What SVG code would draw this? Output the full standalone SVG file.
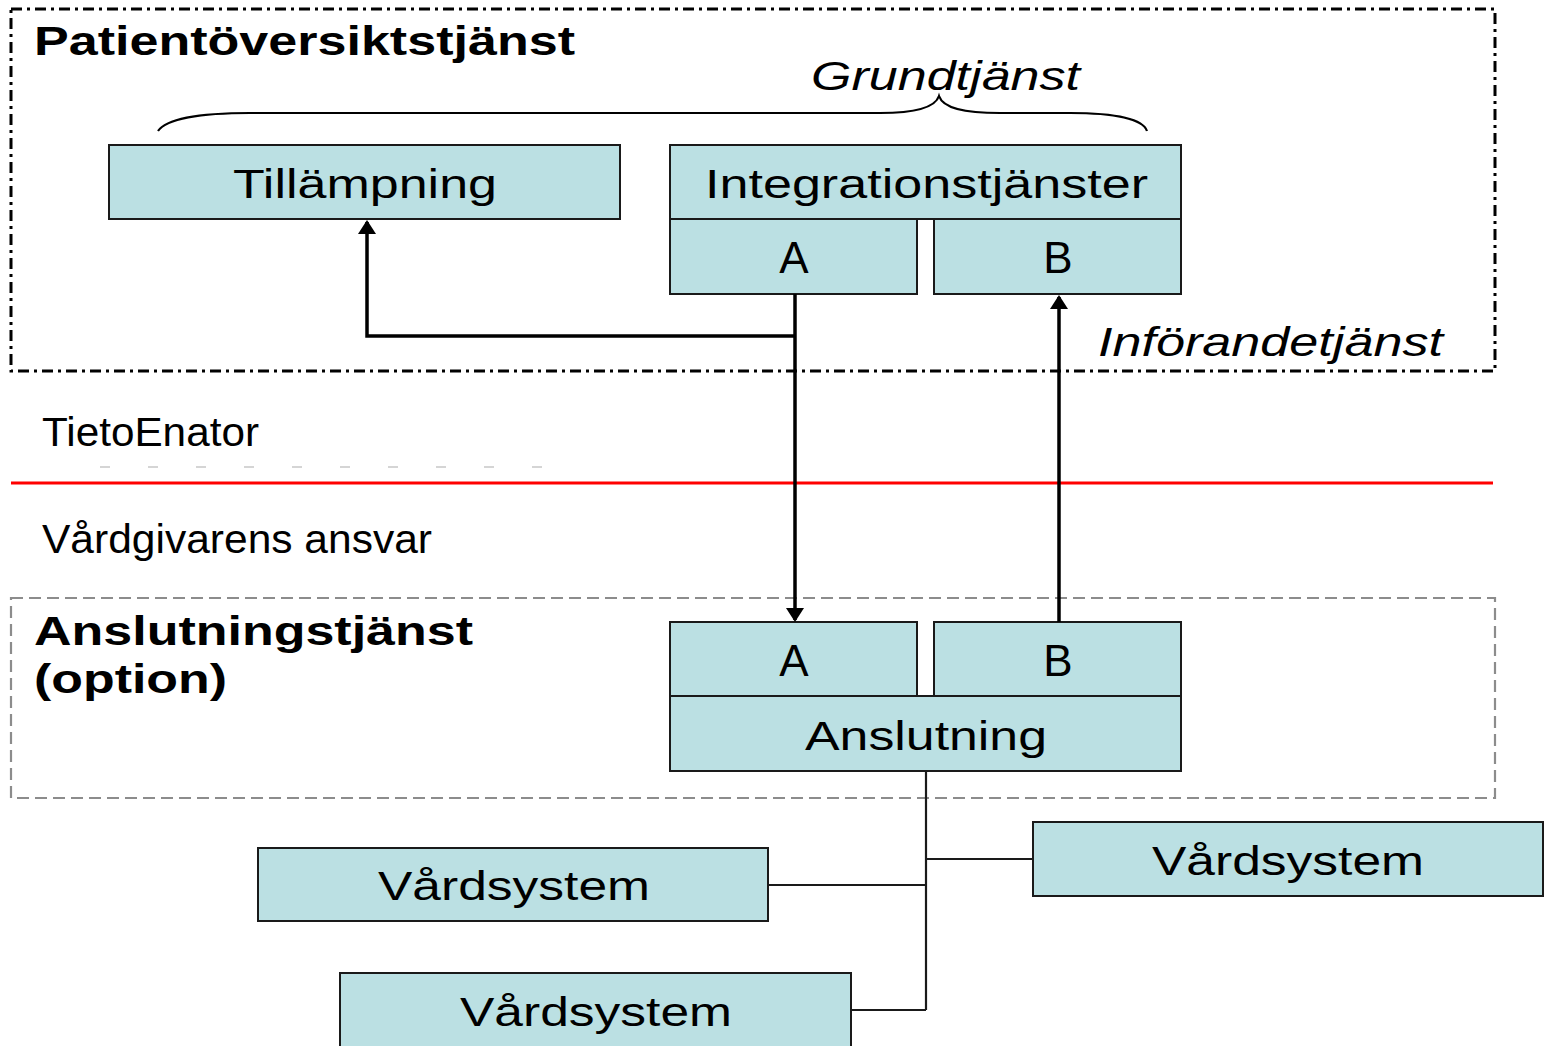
<svg xmlns="http://www.w3.org/2000/svg" width="1545" height="1046" viewBox="0 0 1545 1046">
<defs>
<style>
.box{fill:#BBE0E3;stroke:#1a1a1a;stroke-width:2}
.t{font-family:"Liberation Sans",Arial,sans-serif;font-size:41px;fill:#000}
.ab{font-size:44px}
.b{font-weight:bold}
.i{font-style:italic}
.c{text-anchor:middle}
.conn{fill:none;stroke:#000;stroke-width:3.5}
.thin{fill:none;stroke:#1a1a1a;stroke-width:2.2}
</style>
<marker id="ah" viewBox="0 0 14 18" refX="12" refY="9" markerWidth="14" markerHeight="18" orient="auto" markerUnits="userSpaceOnUse">
<path d="M0,0 L14,9 L0,18 z" fill="#000"/>
</marker>
</defs>
<rect width="1545" height="1046" fill="#fff"/>

<g id="patientoversikt">
<rect x="11" y="9" width="1484" height="362" fill="none" stroke="#000" stroke-width="3" stroke-dasharray="11 5 3 5"/>
<text class="t b" x="34" y="55" textLength="541" lengthAdjust="spacingAndGlyphs">Patientöversiktstjänst</text>
</g>

<g id="grundtjanst">
<path d="M158,131 C166,119 200,113 250,113 L880,113 C915,113 935,108 939,96 C943,108 963,113 1000,113 L1070,113 C1115,113 1143,119 1147,131" fill="none" stroke="#000" stroke-width="2.2"/>
<text class="t i" x="811" y="90" textLength="269" lengthAdjust="spacingAndGlyphs">Grundtjänst</text>
</g>

<g id="tillampning">
<rect class="box" x="109" y="145" width="511" height="74"/>
<text class="t" x="233" y="198" textLength="264" lengthAdjust="spacingAndGlyphs">Tillämpning</text>
</g>

<g id="integrationstjanster">
<rect class="box" x="670" y="145" width="511" height="74"/>
<text class="t" x="705" y="198" textLength="443" lengthAdjust="spacingAndGlyphs">Integrationstjänster</text>
</g>

<g id="int-a">
<rect class="box" x="670" y="219" width="247" height="75"/>
<text class="t ab c" x="794" y="273">A</text>
</g>

<g id="int-b">
<rect class="box" x="934" y="219" width="247" height="75"/>
<text class="t ab c" x="1058" y="273">B</text>
</g>

<g id="inforandetjanst">
<text class="t i" x="1098" y="356" textLength="345" lengthAdjust="spacingAndGlyphs">Införandetjänst</text>
</g>

<g id="tietoenator">
<text class="t" x="42" y="446" textLength="217" lengthAdjust="spacingAndGlyphs">TietoEnator</text>
<line x1="100" y1="467" x2="545" y2="467" stroke="#c8c8c8" stroke-width="1.5" stroke-dasharray="10 38"/>
</g>

<g id="grans">
<line x1="11" y1="483" x2="1493" y2="483" stroke="#ff0000" stroke-width="3"/>
</g>

<g id="vardgivarens">
<text class="t" x="42" y="553" textLength="390" lengthAdjust="spacingAndGlyphs">Vårdgivarens ansvar</text>
</g>

<g id="anslutningstjanst">
<rect x="11" y="598" width="1484" height="200" fill="none" stroke="#8c8c8c" stroke-width="2.2" stroke-dasharray="12 6"/>
<text class="t b" x="34" y="645" textLength="439" lengthAdjust="spacingAndGlyphs">Anslutningstjänst</text>
<text class="t b" x="34" y="693" textLength="193" lengthAdjust="spacingAndGlyphs">(option)</text>
</g>

<g id="ans-a">
<rect class="box" x="670" y="622" width="247" height="74"/>
<text class="t ab c" x="794" y="676">A</text>
</g>

<g id="ans-b">
<rect class="box" x="934" y="622" width="247" height="74"/>
<text class="t ab c" x="1058" y="676">B</text>
</g>

<g id="anslutning">
<rect class="box" x="670" y="696" width="511" height="75"/>
<text class="t c" x="926" y="750" textLength="242" lengthAdjust="spacingAndGlyphs">Anslutning</text>
</g>

<g id="vardsystem1">
<rect class="box" x="1033" y="822" width="510" height="74"/>
<text class="t" x="1152" y="875" textLength="272" lengthAdjust="spacingAndGlyphs">Vårdsystem</text>
</g>

<g id="vardsystem2">
<rect class="box" x="258" y="848" width="510" height="73"/>
<text class="t" x="378" y="900" textLength="272" lengthAdjust="spacingAndGlyphs">Vårdsystem</text>
</g>

<g id="vardsystem3">
<rect class="box" x="340" y="973" width="511" height="80"/>
<text class="t" x="460" y="1026" textLength="272" lengthAdjust="spacingAndGlyphs">Vårdsystem</text>
</g>

<g id="connectors">
<line class="conn" x1="795" y1="294" x2="795" y2="620" marker-end="url(#ah)"/>
<polyline class="conn" points="795,336 367,336 367,222" marker-end="url(#ah)"/>
<line class="conn" x1="1059" y1="622" x2="1059" y2="297" marker-end="url(#ah)"/>
<line class="thin" x1="926" y1="771" x2="926" y2="1010"/>
<line class="thin" x1="926" y1="859" x2="1033" y2="859"/>
<line class="thin" x1="768" y1="885" x2="926" y2="885"/>
<line class="thin" x1="851" y1="1010" x2="926" y2="1010"/>
</g>
</svg>
